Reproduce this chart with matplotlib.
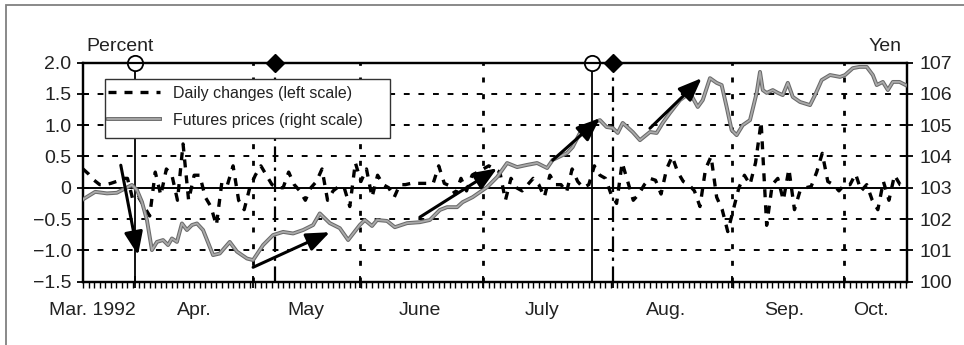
import matplotlib
matplotlib.use("Agg")
import matplotlib.pyplot as plt
from matplotlib.patches import Rectangle, ArrowStyle
from matplotlib.lines import Line2D
from matplotlib.legend_handler import HandlerTuple

plt.rcParams['font.family'] = ['Liberation Sans', 'DejaVu Sans']

# ---- data (x axis in trading days from mid-March 1992) ----
price_days = [0, 2.2, 4.3, 6.1, 7.6, 8.8, 9.7, 10.6, 11.5, 12.4, 13.3, 14.4, 15.3, 16.0,
              16.9, 17.8, 18.7, 19.6, 20.5, 21.6, 23.4, 24.6, 26.4, 27.7, 29.5, 30.6,
              32.4, 34.2, 36.0, 37.8, 39.6, 41.4, 42.6, 44.4, 46.2, 47.7, 49.8, 50.7,
              52.0, 52.9, 54.7, 56.1, 58.3, 60.6, 62.4, 64.2, 65.5, 67.3, 68.3, 70.1,
              71.4, 72.7, 74.5, 76.3, 78.1, 79.9, 81.7, 83.5, 84.5, 87.1, 88.1, 89.4,
              90.6, 91.7, 93.0, 94.2, 95.3, 96.2, 97.1, 98.9, 100.2, 102.0, 103.2,
              104.3, 105.6, 107.4, 109.2, 110.6, 111.5, 112.8, 114.0, 114.9, 115.8,
              116.7, 117.6, 118.7, 120.0, 121.2, 121.8, 122.3, 123.0, 124.1, 125.0,
              125.9, 126.8, 127.7, 129.0, 130.8, 131.7, 132.9, 134.4, 136.2, 137.1,
              138.5, 139.7, 141.0, 142.1, 142.8, 143.9, 144.8, 145.7, 146.9, 148.0]
price_yen = [102.63, 102.87, 102.82, 102.84, 102.98, 103.09, 102.93, 102.55, 101.97,
             101.01, 101.27, 101.33, 101.17, 101.38, 101.27, 101.86, 101.65, 101.81,
             101.86, 101.65, 100.85, 100.90, 101.27, 100.96, 100.74, 100.69, 101.17,
             101.49, 101.59, 101.54, 101.65, 101.81, 102.18, 101.87, 101.71, 101.33,
             101.81, 101.97, 101.78, 101.97, 101.94, 101.74, 101.87, 101.90, 101.97,
             102.29, 102.38, 102.38, 102.54, 102.70, 102.86, 103.02, 103.34, 103.79,
             103.66, 103.73, 103.79, 103.63, 103.89, 104.11, 104.30, 104.75, 104.78,
             105.07, 105.16, 104.94, 104.91, 104.75, 105.07, 104.78, 104.52, 104.78,
             104.75, 105.07, 105.39, 105.80, 106.03, 105.58, 105.80, 106.50, 106.35,
             106.28, 105.58, 104.84, 104.68, 105.00, 105.16, 106.03, 106.70, 106.12,
             106.03, 106.12, 106.03, 105.96, 106.35, 105.90, 105.74, 105.64, 105.96,
             106.44, 106.60, 106.54, 106.60, 106.82, 106.86, 106.86, 106.60, 106.28,
             106.38, 106.12, 106.38, 106.38, 106.28]

# daily percentage changes, one per trading day
daily_pct = [0.30, 0.22, 0.12, 0.05, 0.05, 0.07, 0.10, 0.15, 0.15, -0.20,
             -0.15, -0.30, -0.45, 0.25, -0.12, 0.30, 0.20, -0.20, 0.70, -0.20,
             0.20, 0.20, -0.15, -0.30, -0.60, 0.10, 0.05, 0.35, -0.20, -0.35,
             0.00, 0.20, 0.35, 0.20, 0.05, 0.00, 0.00, 0.25, 0.05, -0.05,
             -0.20, 0.00, 0.10, 0.30, -0.20, -0.05, 0.02, 0.00, -0.30, 0.40,
             0.10, 0.30, -0.15, 0.20, 0.05, 0.00, -0.15, 0.05, 0.05, 0.07,
             0.07, 0.07, 0.07, 0.07, 0.35, 0.07, 0.03, -0.10, 0.15, -0.05,
             0.20, 0.25, 0.30, 0.35, 0.30, 0.25, -0.20, 0.15, 0.00, -0.05,
             0.05, 0.15, 0.05, -0.15, 0.20, 0.05, 0.05, -0.07, 0.30, 0.10,
             0.00, 0.05, 0.35, 0.20, 0.15, -0.10, -0.25, 0.40, 0.10, -0.20,
             -0.10, 0.05, 0.15, 0.12, -0.10, 0.30, 0.50, 0.25, 0.10, 0.05,
             -0.05, -0.30, 0.30, 0.50, -0.15, -0.35, -0.70, -0.35, 0.00, 0.20,
             0.05, 0.40, 1.05, -0.60, 0.05, 0.15, -0.20, 0.30, -0.35, -0.05,
             0.00, 0.02, 0.25, 0.55, 0.10, 0.05, -0.05, 0.05, 0.05, 0.22,
             -0.05, 0.05, -0.20, -0.35, 0.10, -0.20, 0.20, 0.05, 0.03]
daily_days = list(range(len(daily_pct)))

# calendar
month_labels = ["Mar. 1992", "Apr.", "May", "June", "July", "Aug.", "Sep.", "Oct."]
month_label_pos = [1.6, 20.0, 40.1, 60.6, 82.6, 104.9, 126.1, 141.7]
month_bounds = [9.35, 30.6, 49.8, 71.9, 95.3, 116.7, 136.9]
grid_bounds = [30.6, 49.8, 71.9, 116.7, 136.9]
x_end = 148.2

# policy events: open circles (solid lines) and diamonds (dash-dot lines)
circle_events = [9.35, 91.5]
diamond_events = [34.5, 95.3]

# trend arrows (start day, start %, end day, end %)
arrows = [(6.8, 0.36, 9.9, -1.075),
          (30.6, -1.27, 44.4, -0.71),
          (60.6, -0.47, 74.5, 0.31),
          (84.5, 0.44, 93.0, 1.11),
          (102.0, 0.95, 111.3, 1.75)]

PRICE_DARK, PRICE_LIGHT = '#6a6a6a', '#aaaaaa'
TEXT = '#222222'

fig = plt.figure(figsize=(9.64, 3.45), dpi=100)
fig.patches.append(Rectangle((6 / 964, -0.05), 1.1, 1 - 5 / 345 + 0.05,
                             transform=fig.transFigure, fill=False,
                             edgecolor='#808080', linewidth=1.3))
ax = fig.add_axes([0.0861, 0.1835, 0.8545, 0.6353])
ax2 = ax.twinx()

ax.set_xlim(0, x_end)
ax.set_ylim(-1.5, 2.0)
ax2.set_ylim(100, 107)

# grid
for v in [-1.0, -0.5, 0.5, 1.0, 1.5]:
    ax.axhline(v, color='black', lw=1.4, dashes=(3, 4.5), zorder=1)
ax.axhline(0, color='black', lw=1.4, zorder=1)
for b in grid_bounds:
    ax.axvline(b, color='black', lw=2.0, dashes=(1.8, 4.2), zorder=1)

# event lines
for e in circle_events:
    ax.axvline(e, color='black', lw=1.3, zorder=2)
    ax.plot([e], [2.0], marker='o', ms=11, mfc='white', mec='black', mew=1.3,
            clip_on=False, zorder=10)
for e in diamond_events:
    ax.axvline(e, color='black', lw=1.6, dashes=(7, 2.5, 1.5, 2.5), zorder=2)
    ax.plot([e], [2.0], marker='D', ms=9.5, mfc='black', mec='black',
            clip_on=False, zorder=10)

# series
ax.plot(daily_days, daily_pct, color='black', lw=2.4, dashes=(2.4, 2.4), zorder=3)
ax2.plot(price_days, price_yen, color=PRICE_DARK, lw=2.8, zorder=3,
         solid_joinstyle='round')
ax2.plot(price_days, price_yen, color=PRICE_LIGHT, lw=1.3, zorder=4,
         solid_joinstyle='round')

# arrows
style = ArrowStyle('-|>', head_length=1.0, head_width=0.4)
for x0, y0, x1, y1 in arrows:
    ax2.annotate('', xy=(x1, 103 + 2 * y1), xytext=(x0, 103 + 2 * y0),
                 arrowprops=dict(arrowstyle=style, color='black', lw=2.2,
                                 mutation_scale=14, shrinkA=0, shrinkB=0),
                 zorder=6)

# axes cosmetics
for a in (ax, ax2):
    for s in a.spines.values():
        s.set_linewidth(1.6)
ax.set_xticks(month_bounds)
ax.set_xticks(range(0, int(x_end) + 1), minor=True)
ax.tick_params(axis='x', which='major', length=9, width=1.3, direction='inout',
               labelbottom=False)
ax.tick_params(axis='x', which='minor', length=4.5, width=1.0, direction='out')
ax.set_yticks([-1.5, -1.0, -0.5, 0, 0.5, 1.0, 1.5, 2.0])
ax.set_yticklabels(['\u22121.5', '\u22121.0', '\u22120.5', '0', '0.5', '1.0', '1.5', '2.0'])
ax.tick_params(axis='y', length=9, width=1.3, direction='inout', labelsize=14,
               pad=4, labelcolor=TEXT)
ax2.set_yticks(range(100, 108))
ax2.tick_params(axis='y', length=9, width=1.3, direction='inout', labelsize=14,
                pad=5, labelcolor=TEXT)

for lab, pos in zip(month_labels, month_label_pos):
    ax.text(pos, -0.13, lab, transform=ax.get_xaxis_transform(), ha='center',
            va='center', fontsize=14, color=TEXT)

ax.text(0.045, 1.075, 'Percent', transform=ax.transAxes, ha='center',
        va='center', fontsize=14, color=TEXT)
ax2.text(0.974, 1.075, 'Yen', transform=ax.transAxes, ha='center',
         va='center', fontsize=14, color=TEXT)

# legend: frame drawn as a box, entries placed inside it
ax2.add_patch(Rectangle((0.0267, 0.6556), 0.346, 0.269, transform=ax.transAxes,
                        facecolor='white', edgecolor='#333333', lw=1.0, zorder=19))
h1 = Line2D([], [], color='black', lw=2.4, dashes=(2.4, 2.4))
h2 = (Line2D([], [], color=PRICE_DARK, lw=2.8), Line2D([], [], color=PRICE_LIGHT, lw=1.3))
leg = ax2.legend([h1, h2], ['Daily changes (left scale)', 'Futures prices (right scale)'],
                 handler_map={tuple: HandlerTuple(ndivide=1, pad=0)},
                 loc='upper left', bbox_to_anchor=(0.030, 0.895),
                 borderaxespad=0, borderpad=0, frameon=False,
                 fontsize=11.5, handlelength=3.3, handletextpad=0.8,
                 labelspacing=0.75)
for t in leg.get_texts():
    t.set_color(TEXT)
leg.set_zorder(20)

fig.savefig('out.png', dpi=100)
